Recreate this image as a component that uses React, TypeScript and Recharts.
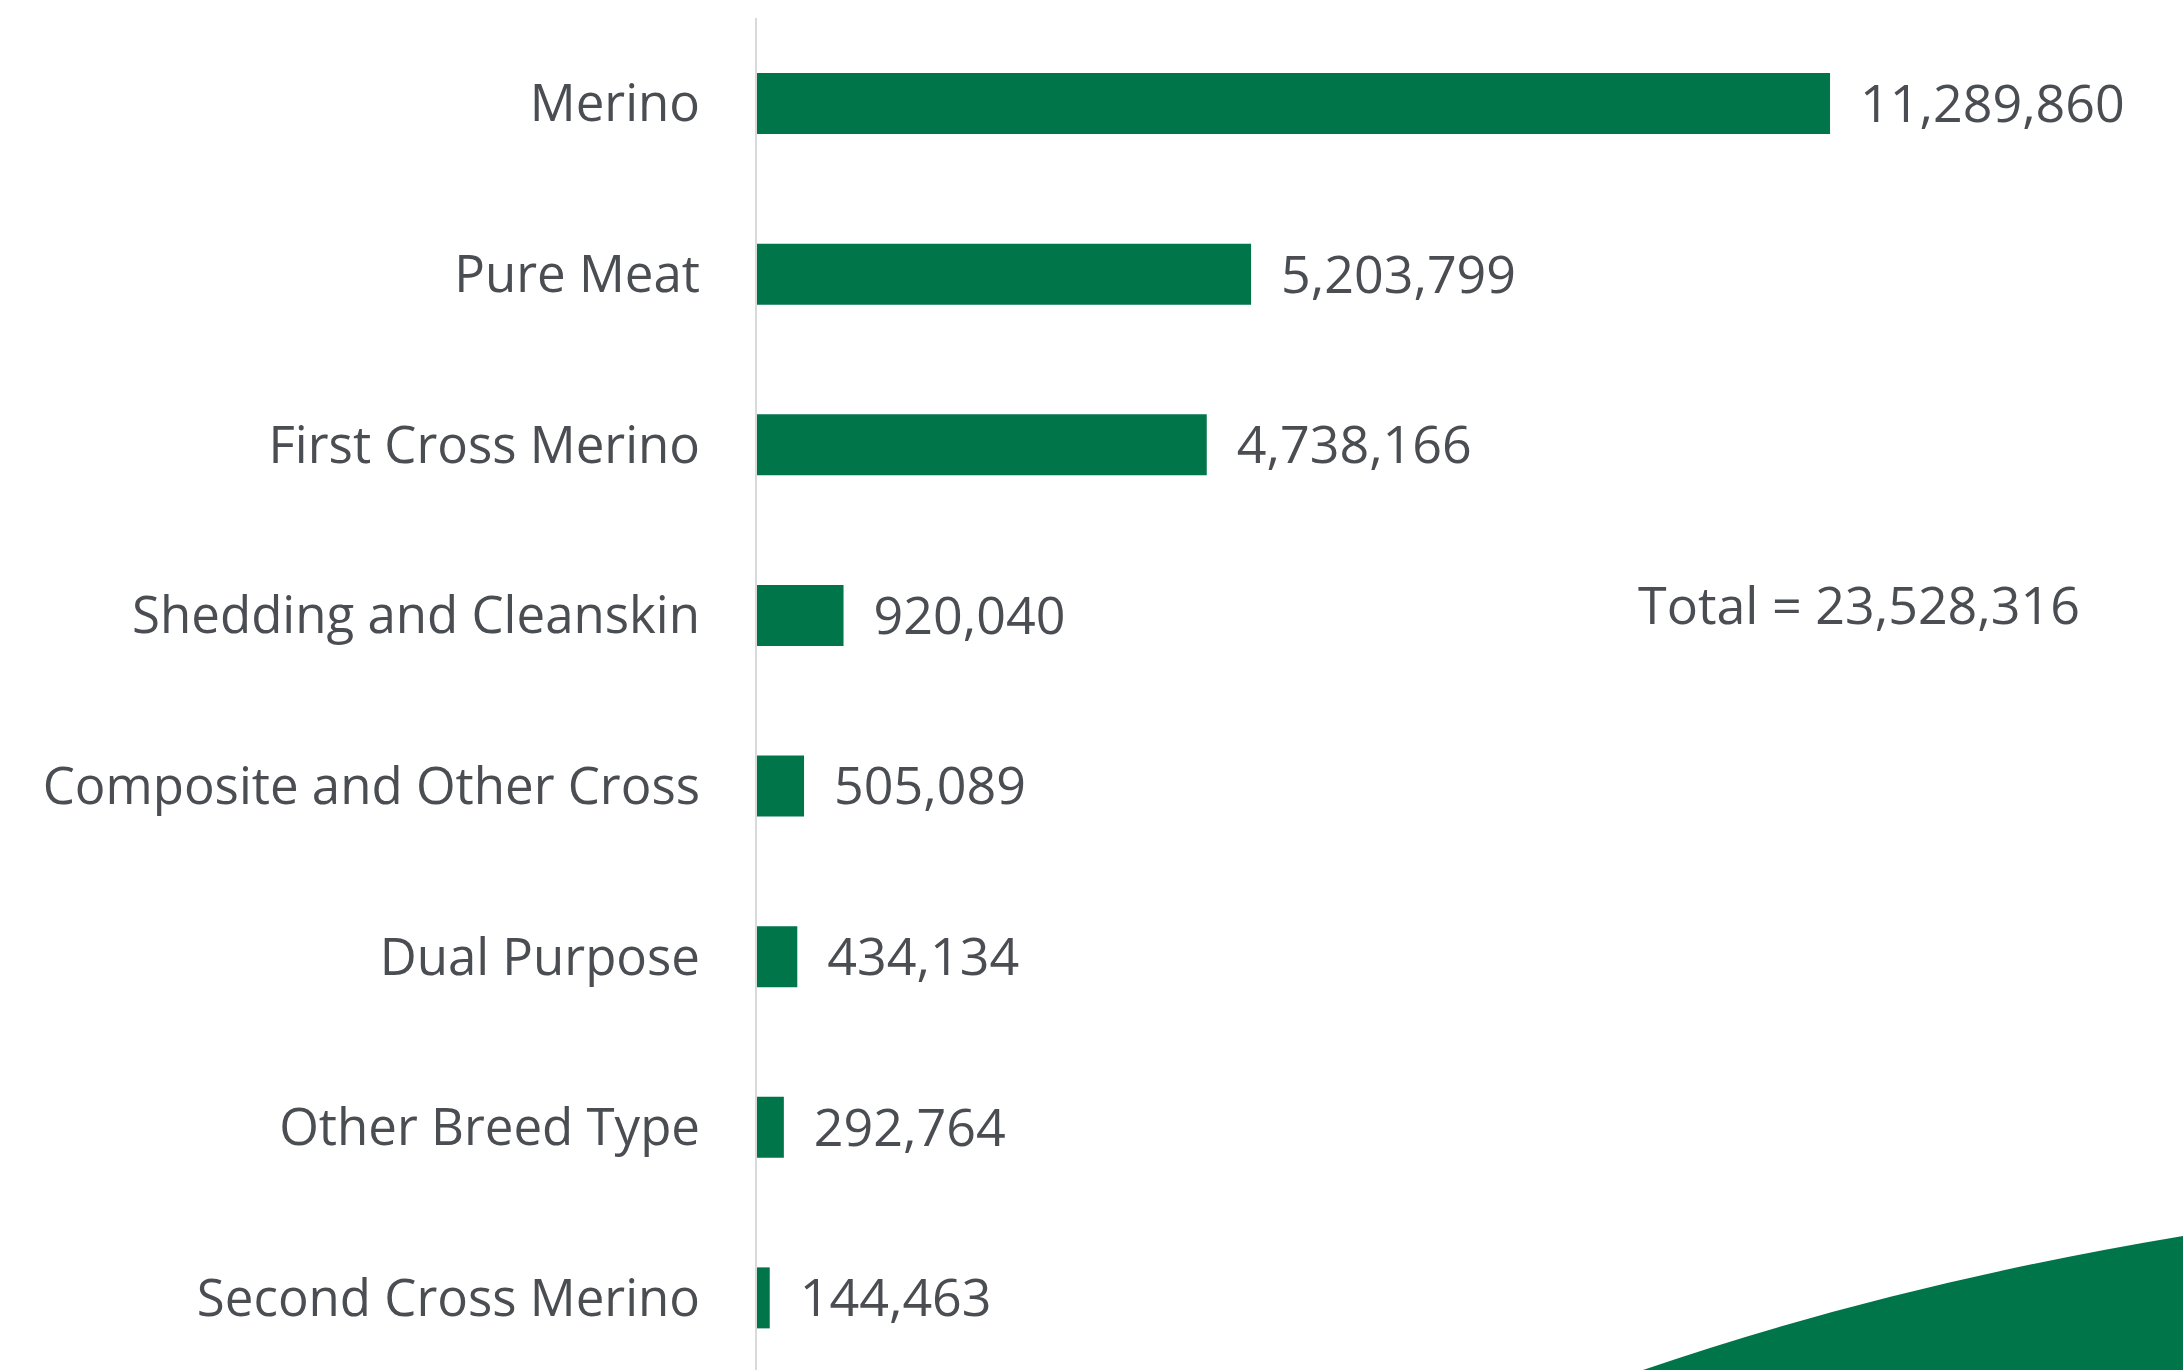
import { BarChart, Bar, XAxis, YAxis, LabelList } from "recharts";

const breeds = [
  "Merino",
  "Pure Meat",
  "First Cross Merino",
  "Shedding and Cleanskin",
  "Composite and Other Cross",
  "Dual Purpose",
  "Other Breed Type",
  "Second Cross Merino",
];
const sheepCounts = [11289860, 5203799, 4738166, 920040, 505089, 434134, 292764, 144463];
const totalLabel = "Total = 23,528,316";

const data = breeds.map((breed, i) => ({ breed, count: sheepCounts[i] }));

const GREEN = "#00754A";
const TEXT = "#4a4d52";
const FONT = "'Open Sans', sans-serif";

export default function App() {
  return (
    <div
      style={{
        position: "absolute",
        left: 0,
        top: 0,
        width: 2183,
        height: 1370,
        overflow: "hidden",
        background: "#fff",
      }}
    >
      <BarChart
        width={2183}
        height={1400}
        data={data}
        layout="vertical"
        margin={{ top: 18, right: 0, bottom: 17, left: 0 }}
        barSize={61}
      >
        <XAxis type="number" hide domain={[0, 15000000]} />
        <YAxis
          type="category"
          dataKey="breed"
          width={756}
          tickSize={0}
          tickMargin={56}
          axisLine={{ stroke: "#d9d9d9", strokeWidth: 2 }}
          tickLine={false}
          tick={{ fontSize: 51, fontFamily: FONT, fill: TEXT }}
          interval={0}
        />
        <Bar dataKey="count" fill={GREEN} isAnimationActive={false}>
          <LabelList
            dataKey="count"
            position="right"
            offset={30}
            formatter={(v: number) => v.toLocaleString("en-US")}
            style={{ fontSize: 52, fontFamily: FONT, fill: TEXT }}
          />
        </Bar>
      </BarChart>
      <svg
        width={2183}
        height={1370}
        style={{ position: "absolute", left: 0, top: 0, pointerEvents: "none" }}
      >
        <text x={1638} y={624} fontSize={52} fontFamily={FONT} fill={TEXT}>
          {totalLabel}
        </text>
        <path d="M 1643 1370 Q 1890 1285 2183 1236 L 2183 1370 Z" fill={GREEN} />
      </svg>
    </div>
  );
}
